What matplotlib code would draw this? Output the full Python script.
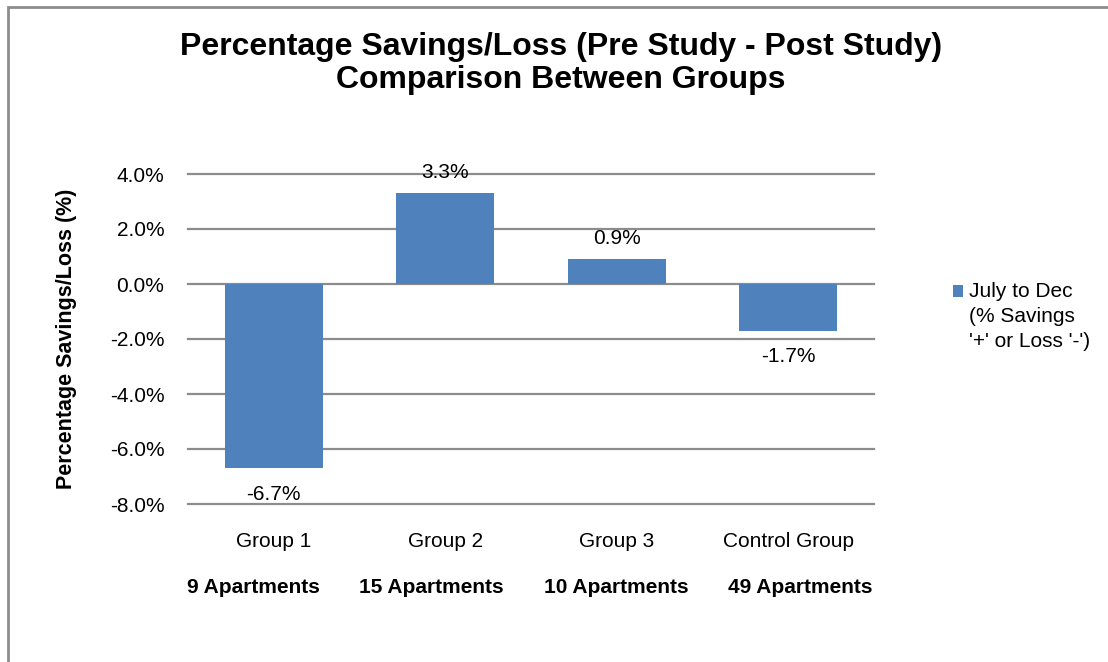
import matplotlib
matplotlib.use("Agg")
import matplotlib.pyplot as plt
from matplotlib.patches import Rectangle
from matplotlib.legend_handler import HandlerPatch
from matplotlib.container import BarContainer

plt.rcParams['font.family'] = ['Liberation Sans', 'DejaVu Sans']

groups = ["Group 1", "Group 2", "Group 3", "Control Group"]
apartments = ["9 Apartments", "15 Apartments", "10 Apartments", "49 Apartments"]
savings = [-6.7, 3.3, 0.9, -1.7]
yticks = [-8, -6, -4, -2, 0, 2, 4]
series_name = "July to Dec\n(% Savings\n'+' or Loss '-')"

# the apartment captions are not quite centred under the bars
apt_x = [-0.12, 0.92, 2.0, 3.07]

W, H = 1108, 662
FS = 15
fig = plt.figure(figsize=(W / 100, H / 100), dpi=100)
ax = fig.add_axes([188 / W, 1 - 504 / H, (874 - 188) / W, (504 - 174) / H])

# outer frame of the chart (only top and left visible in the reference)
fig.patches.append(Rectangle((7.5 / W, -0.1), 1.2, 1 - 6.5 / H + 0.1,
                             transform=fig.transFigure, fill=False,
                             edgecolor="#8c8c8c", lw=2))

x = range(len(groups))
bars = ax.bar(x, savings, width=0.57, color="#4f81bd", label=series_name,
              zorder=3)
for b, v in zip(bars, savings):
    up = v > 0
    ax.annotate(f"{v:.1f}%", (b.get_x() + b.get_width() / 2, v),
                xytext=(0, 8 if up else -12), textcoords="offset points",
                ha="center", va="bottom" if up else "top", fontsize=FS)

ax.set_xlim(-0.5, len(groups) - 0.5)
ax.set_ylim(-8, 4)
ax.set_yticks(yticks)
ax.set_yticklabels([f"{v:.1f}%" for v in yticks], fontsize=FS)
ax.set_xticks(list(x))
ax.set_xticklabels(groups, fontsize=FS)
ax.tick_params(length=0)
ax.tick_params(axis="y", pad=17)
ax.tick_params(axis="x", pad=20)
ax.grid(axis="y", color="#8c8c8c", lw=1.6, zorder=0)
for gl in ax.get_ygridlines():
    gl.set_clip_on(False)
for s in ax.spines.values():
    s.set_visible(False)

for xa, a in zip(apt_x, apartments):
    ax.text(xa, -0.252, a, transform=ax.get_xaxis_transform(), ha="center",
            va="center", fontsize=FS, fontweight="bold")

ax.set_ylabel("Percentage Savings/Loss (%)", fontsize=FS + 0.5,
              fontweight="bold")
ax.yaxis.set_label_coords(-0.162, 0.5)

fig.text(561 / W, 1 - 63.5 / H,
         "Percentage Savings/Loss (Pre Study - Post Study)\nComparison Between Groups",
         ha="center", va="center", fontsize=23, fontweight="bold",
         linespacing=1.1)


def lowered_square(legend, orig_handle, xdescent, ydescent, width, height,
                   fontsize):
    return Rectangle((-xdescent, -ydescent - 2.5), width, height)


leg = fig.legend(loc="upper left", bbox_to_anchor=(953 / W, 1 - 282 / H),
                 frameon=False, fontsize=FS, handlelength=0.5,
                 handleheight=0.5, handletextpad=0.25, borderpad=0,
                 borderaxespad=0, labelspacing=0,
                 handler_map={BarContainer: HandlerPatch(
                     patch_func=lowered_square,
                     update_func=lambda h, o: h.update_from(o[0]))})
leg.get_texts()[0].set_linespacing(1.4)
# marker sits next to the first line, not the middle of the label
for col in leg._legend_handle_box.get_children():
    for item in col.get_children():
        item.align = "top"

fig.savefig("out.png", dpi=100)
